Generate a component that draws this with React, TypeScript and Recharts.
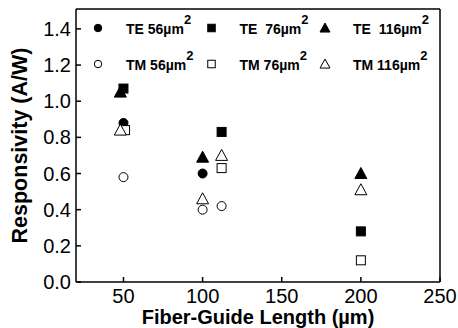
import { ScatterChart, Scatter, XAxis, YAxis, Legend } from "recharts";

type Kind = "circle" | "square" | "triangle";

// responsivity (A/W) vs fiber-guide length (um), per mode and device area
const TE_56 = [
  { len: 50, resp: 0.88 },
  { len: 100, resp: 0.6 },
];
const TE_76 = [
  { len: 50, resp: 1.07 },
  { len: 112, resp: 0.83 },
  { len: 200, resp: 0.28 },
];
const TE_116 = [
  { len: 48, resp: 1.05 },
  { len: 100, resp: 0.69 },
  { len: 200, resp: 0.6 },
];
const TM_56 = [
  { len: 50, resp: 0.58 },
  { len: 100, resp: 0.4 },
  { len: 112, resp: 0.42 },
];
const TM_76 = [
  { len: 51, resp: 0.84 },
  { len: 112, resp: 0.63 },
  { len: 200, resp: 0.12 },
];
const TM_116 = [
  { len: 48, resp: 0.84 },
  { len: 100, resp: 0.46 },
  { len: 112, resp: 0.7 },
  { len: 200, resp: 0.51 },
];

const X_TICKS = [50, 100, 150, 200, 250];
const Y_TICKS = [0, 0.2, 0.4, 0.6, 0.8, 1.0, 1.2, 1.4];

// legend order: first row TE, second row TM
const SERIES: { name: string; data: typeof TE_56; kind: Kind; filled: boolean }[] = [
  { name: "TE 56", data: TE_56, kind: "circle", filled: true },
  { name: "TE  76", data: TE_76, kind: "square", filled: true },
  { name: "TE  116", data: TE_116, kind: "triangle", filled: true },
  { name: "TM 56", data: TM_56, kind: "circle", filled: false },
  { name: "TM 76", data: TM_76, kind: "square", filled: false },
  { name: "TM 116", data: TM_116, kind: "triangle", filled: false },
];

const FONT = "'Liberation Sans', Arial, Helvetica, sans-serif";
const W = 458;
const H = 328;

function Marker({
  cx,
  cy,
  kind,
  filled,
  size,
}: {
  cx: number;
  cy: number;
  kind: Kind;
  filled: boolean;
  size: number;
}) {
  const fill = filled ? "#000" : "#fff";
  const common = { fill, stroke: "#000", strokeWidth: 1 };
  if (kind === "circle") {
    return <circle cx={cx} cy={cy} r={size / 2 - 0.5} {...common} />;
  }
  if (kind === "square") {
    const s = size - 1;
    return <rect x={cx - s / 2} y={cy - s / 2} width={s} height={s} {...common} />;
  }
  const w = size + 1;
  const h = size;
  const pts = `${cx},${cy - h * 0.55} ${cx - w / 2},${cy + h * 0.45} ${cx + w / 2},${cy + h * 0.45}`;
  return <polygon points={pts} {...common} />;
}

function LegendGrid() {
  return (
    <svg width={W} height={H} style={{ position: "absolute", left: 0, top: 0 }}>
      {SERIES.map((s, i) => {
        const col = i % 3;
        const row = Math.floor(i / 3);
        const mx = 98 + col * 113.5;
        const my = 28 + row * 36;
        return (
          <g key={s.name}>
            <Marker cx={mx} cy={my} kind={s.kind} filled={s.filled} size={s.kind === "triangle" ? 9 : 8.5} />
            <text
              x={mx + 28}
              y={my + 6}
              fontFamily={FONT}
              fontWeight="bold"
              fontSize={14}
              fill="#000"
              style={{ whiteSpace: "pre" }}
            >
              {s.name}
              {"\u00b5m"}
              <tspan dy={-10} fontSize={13}>
                2
              </tspan>
            </text>
          </g>
        );
      })}
    </svg>
  );
}

export default function App() {
  const lineStyle = { stroke: "#000", strokeWidth: 1.5 };
  return (
    <div style={{ position: "absolute", left: 0, top: 0, width: W, height: H, background: "#fff" }}>
      <ScatterChart width={W} height={H} margin={{ top: 8, right: 17, bottom: 0, left: 0 }}>
        <XAxis
          dataKey="len"
          type="number"
          domain={[20, 250]}
          ticks={X_TICKS}
          allowDataOverflow
          height={46}
          stroke="#000"
          tickSize={-5}
          tickMargin={12}
          axisLine={lineStyle}
          tickLine={lineStyle}
          tick={{ fill: "#000", fontSize: 20, fontFamily: FONT }}
          label={{
            value: "Fiber-Guide Length (\u00b5m)",
            position: "insideBottom",
            offset: 4,
            fill: "#000",
            fontSize: 20,
            fontWeight: "bold",
            fontFamily: FONT,
          }}
        />
        <XAxis
          xAxisId="top"
          orientation="top"
          type="number"
          domain={[20, 250]}
          ticks={X_TICKS}
          height={1}
          stroke="#000"
          tickSize={2}
          tick={false}
          axisLine={lineStyle}
          tickLine={lineStyle}
        />
        <YAxis
          dataKey="resp"
          type="number"
          domain={[0, 1.51]}
          ticks={Y_TICKS}
          allowDataOverflow
          width={76}
          stroke="#000"
          tickSize={-5}
          tickMargin={10}
          tickFormatter={(v: number) => v.toFixed(1)}
          axisLine={lineStyle}
          tickLine={lineStyle}
          tick={{ fill: "#000", fontSize: 20, fontFamily: FONT }}
          label={{
            value: "Responsivity (A/W)",
            angle: -90,
            position: "insideLeft",
            offset: 19,
            fill: "#000",
            fontSize: 21.5,
            fontWeight: "bold",
            fontFamily: FONT,
            style: { textAnchor: "middle" },
          }}
        />
        <YAxis
          yAxisId="right"
          orientation="right"
          type="number"
          domain={[0, 1.51]}
          ticks={Y_TICKS}
          width={1}
          stroke="#000"
          tickSize={2}
          tick={false}
          axisLine={lineStyle}
          tickLine={lineStyle}
        />
        <Legend
          layout="horizontal"
          verticalAlign="middle"
          align="center"
          wrapperStyle={{ left: 0, top: 0, width: W, height: H, pointerEvents: "none" }}
          content={() => <LegendGrid />}
        />
        {SERIES.map((s) => (
          <Scatter
            key={s.name}
            name={s.name}
            data={s.data}
            isAnimationActive={false}
            shape={(p: any) => (
              <Marker cx={p.cx} cy={p.cy} kind={s.kind} filled={s.filled} size={s.kind === "triangle" ? 11 : 10} />
            )}
          />
        ))}
      </ScatterChart>
    </div>
  );
}
